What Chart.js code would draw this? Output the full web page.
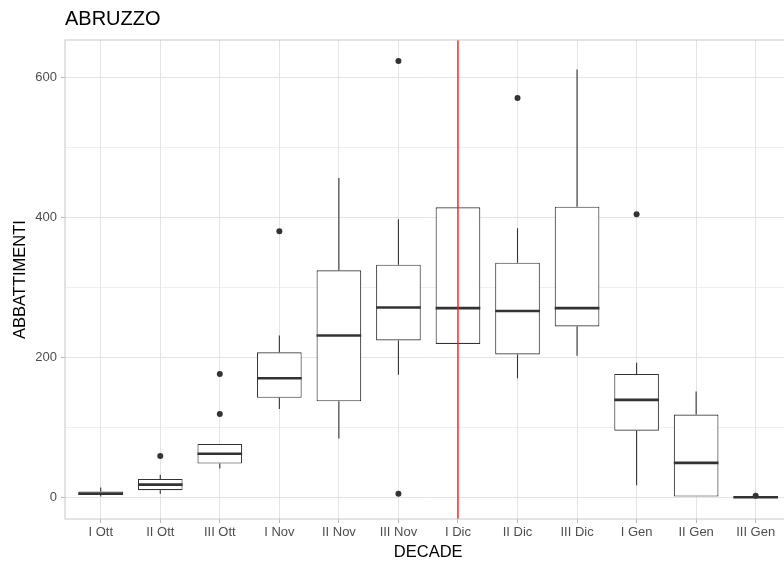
<!DOCTYPE html>
<html>
<head>
<meta charset="utf-8">
<script src="https://cdn.jsdelivr.net/npm/chart.js@4"></script>
<style>
  html, body { margin: 0; padding: 0; background: #fff; overflow: hidden; }
  #wrap { width: 800px; height: 564px; }
</style>
</head>
<body>
<div id="wrap"><canvas id="grafico"></canvas></div>
<script>
// decadi sull'asse x
var decadi = ['I Ott', 'II Ott', 'III Ott', 'I Nov', 'II Nov', 'III Nov',
              'I Dic', 'II Dic', 'III Dic', 'I Gen', 'II Gen', 'III Gen'];

// statistiche dei boxplot
var baffoMin = [1, 5, 41, 126, 84, 175, 219, 170, 202, 17, 1, 0];
var q1       = [3, 10, 48, 142, 137, 224, 219, 204, 244, 95, 1, 0];
var mediana  = [5, 18, 62, 170, 231, 271, 270, 266, 270, 139, 49, 0];
var q3       = [8, 26, 76, 207, 324, 332, 414, 335, 415, 176, 118, 1];
var baffoMax = [14, 32, 76, 231, 456, 397, 414, 384, 611, 192, 151, 1];

// valori anomali
var anomaliDecade = ['II Ott', 'III Ott', 'III Ott', 'I Nov', 'III Nov', 'III Nov', 'II Dic', 'I Gen', 'III Gen'];
var anomaliValore = [59, 119, 176, 380, 623, 5, 570, 404, 2];

// tacche asse y
var tickY = [0, 100, 200, 300, 400, 500, 600];
var etichetteY = [0, 200, 400, 600];

// linea verticale rossa
var decadeRiferimento = 'I Dic';

var scatola = decadi.map(function(d, i) {
  return { x: i + 1, y: [q1[i], q3[i]] };
});
var anomali = anomaliDecade.map(function(d, i) {
  return { x: decadi.indexOf(d) + 1, y: anomaliValore[i] };
});

var boxPlugin = {
  id: 'boxplot',
  beforeDatasetsDraw: function(chart) {
    var ctx = chart.ctx, xs = chart.scales.x, ys = chart.scales.y;
    ctx.save();
    ctx.strokeStyle = '#333333';
    ctx.lineWidth = 1.1;
    decadi.forEach(function(d, i) {
      var x = xs.getPixelForValue(i + 1);
      ctx.beginPath();
      ctx.moveTo(x, ys.getPixelForValue(q3[i]));
      ctx.lineTo(x, ys.getPixelForValue(baffoMax[i]));
      ctx.moveTo(x, ys.getPixelForValue(q1[i]));
      ctx.lineTo(x, ys.getPixelForValue(baffoMin[i]));
      ctx.stroke();
    });
    ctx.restore();
  },
  afterDatasetsDraw: function(chart) {
    var ctx = chart.ctx, xs = chart.scales.x, ys = chart.scales.y;
    var barre = chart.getDatasetMeta(0).data;
    ctx.save();
    ctx.strokeStyle = '#333333';
    ctx.lineWidth = 2.6;
    decadi.forEach(function(d, i) {
      var b = barre[i];
      var y = ys.getPixelForValue(mediana[i]);
      ctx.beginPath();
      ctx.moveTo(b.x - b.width / 2, y);
      ctx.lineTo(b.x + b.width / 2, y);
      ctx.stroke();
    });
    // linea rossa
    var xr = xs.getPixelForValue(decadi.indexOf(decadeRiferimento) + 1);
    ctx.strokeStyle = '#ff1a1a';
    ctx.lineWidth = 1.4;
    ctx.beginPath();
    ctx.moveTo(xr, chart.chartArea.top);
    ctx.lineTo(xr, chart.chartArea.bottom);
    ctx.stroke();
    // bordo del pannello
    var a = chart.chartArea;
    ctx.strokeStyle = '#c8c8c8';
    ctx.lineWidth = 1;
    ctx.strokeRect(a.left, a.top, a.right - a.left, a.bottom - a.top);
    ctx.restore();
  }
};

new Chart(document.getElementById('grafico'), {
  type: 'bar',
  data: {
    datasets: [{
      data: scatola,
      backgroundColor: '#ffffff',
      borderColor: '#333333',
      borderWidth: 1.1,
      borderSkipped: false,
      barPercentage: 0.75,
      categoryPercentage: 1
    }, {
      type: 'scatter',
      data: anomali,
      pointRadius: 3,
      pointBackgroundColor: '#333333',
      pointBorderColor: '#333333',
      pointBorderWidth: 0
    }]
  },
  options: {
    responsive: true,
    maintainAspectRatio: false,
    animation: false,
    layout: { padding: { left: 0, right: 8.6, top: 0, bottom: 0 } },
    plugins: {
      legend: { display: false },
      tooltip: { enabled: false },
      title: {
        display: true,
        text: 'ABRUZZO',
        align: 'start',
        fullSize: false,
        color: '#000000',
        font: { family: 'Liberation Sans', size: 20, weight: 'normal' },
        padding: { top: 7.2, bottom: 8.8 }
      }
    },
    scales: {
      x: {
        type: 'linear',
        min: 0.4,
        max: 12.6,
        offset: false,
        afterBuildTicks: function(scale) {
          scale.ticks = decadi.map(function(d, i) { return { value: i + 1 }; });
        },
        afterFit: function(scale) { scale.height = 45; },
        ticks: {
          autoSkip: false,
          maxRotation: 0,
          padding: 2,
          color: '#4d4d4d',
          font: { family: 'Liberation Sans', size: 13 },
          callback: function(v) { return decadi[v - 1]; }
        },
        grid: { offset: false, color: '#e4e4e4', lineWidth: 1, tickLength: 4, tickColor: '#b8b8b8' },
        border: { display: false },
        title: {
          display: true,
          text: 'DECADE',
          color: '#000000',
          font: { family: 'Liberation Sans', size: 16.5 },
          padding: { top: 0, bottom: 1.4 }
        }
      },
      y: {
        min: -31.1,
        max: 653,
        afterBuildTicks: function(scale) {
          scale.ticks = tickY.map(function(v) { return { value: v }; });
        },
        afterFit: function(scale) { scale.width = 65; },
        ticks: {
          padding: 4,
          color: '#4d4d4d',
          font: { family: 'Liberation Sans', size: 13 },
          callback: function(v) { return etichetteY.indexOf(v) >= 0 ? v : ''; }
        },
        grid: {
          color: '#e4e4e4',
          lineWidth: function(c) { return etichetteY.indexOf(c.tick.value) >= 0 ? 1 : 0.6; },
          tickLength: 4,
          tickColor: function(c) { return etichetteY.indexOf(c.tick.value) >= 0 ? '#b8b8b8' : 'rgba(0,0,0,0)'; }
        },
        border: { display: false },
        title: {
          display: true,
          text: 'ABBATTIMENTI',
          color: '#000000',
          font: { family: 'Liberation Sans', size: 16.5 },
          padding: { top: 10.9, bottom: 0 }
        }
      }
    }
  },
  plugins: [boxPlugin]
});
</script>
</body>
</html>
